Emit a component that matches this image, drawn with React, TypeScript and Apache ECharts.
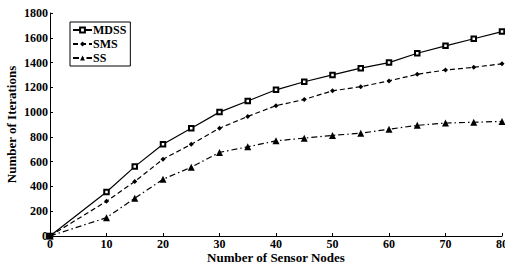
import React, { useEffect, useRef } from "react";
import * as echarts from "echarts";

const xValues = [0, 10, 15, 20, 25, 30, 35, 40, 45, 50, 55, 60, 65, 70, 75, 80];
const mdss = [0, 355, 560, 740, 870, 1000, 1090, 1180, 1245, 1300, 1355, 1400, 1475, 1535, 1592, 1650];
const sms = [0, 280, 440, 620, 740, 870, 965, 1052, 1102, 1172, 1205, 1252, 1305, 1340, 1362, 1390];
const ss = [0, 148, 305, 458, 555, 675, 720, 768, 790, 812, 830, 862, 893, 912, 918, 925];

const font = "Liberation Serif";

export default function App() {
  const ref = useRef<HTMLDivElement>(null);
  useEffect(() => {
    document.body.style.margin = "0";
    document.body.style.overflow = "hidden";
    const chart = echarts.init(ref.current!, null, { renderer: "svg" });
    const pair = (arr: number[]) => arr.map((v, i) => [xValues[i], v]);
    chart.setOption({
      animation: false,
      backgroundColor: "#fff",
      grid: { left: 50, right: 3, top: 13, bottom: 29, containLabel: false, outerBoundsMode: "none" },
      legend: {
        orient: "vertical",
        left: 70,
        top: 22,
        padding: [2, 4, 2, 2],
        itemGap: 2,
        itemWidth: 19,
        itemHeight: 6,
        borderColor: "#000",
        borderWidth: 1,
        borderRadius: 0,
        backgroundColor: "#fff",
        textStyle: { fontFamily: font, fontWeight: "bold", fontSize: 12, lineHeight: 12, color: "#000", padding: [0, 0, 0, -4] },
        data: ["MDSS", "SMS", "SS"],
      },
      xAxis: {
        type: "value",
        min: 0,
        max: 80,
        interval: 10,
        name: "Number of Sensor Nodes",
        nameLocation: "middle",
        nameGap: 15,
        nameMoveOverlap: false,
        nameTextStyle: { fontFamily: font, fontWeight: "bold", fontSize: 13, lineHeight: 13, color: "#000" },
        axisLine: { lineStyle: { color: "#000", width: 1 } },
        axisTick: { inside: true, length: 3, lineStyle: { color: "#000" } },
        axisLabel: { fontFamily: font, fontWeight: "bold", fontSize: 12, color: "#000", margin: 2, formatter: (v: number) => String(v) },
        splitLine: { show: false },
      },
      yAxis: {
        type: "value",
        min: 0,
        max: 1800,
        interval: 200,
        name: "Number of Iterations",
        nameLocation: "middle",
        nameGap: 32,
        nameMoveOverlap: false,
        nameTextStyle: { fontFamily: font, fontWeight: "bold", fontSize: 13, color: "#000" },
        axisLine: { show: true, lineStyle: { color: "#000", width: 1 } },
        axisTick: { show: true, inside: true, length: 3, lineStyle: { color: "#000" } },
        axisLabel: { fontFamily: font, fontWeight: "bold", fontSize: 12, color: "#000", margin: 2, formatter: (v: number) => String(v) },
        splitLine: { show: false },
      },
      series: [
        {
          name: "MDSS",
          type: "line",
          data: pair(mdss),
          symbol: "emptyRect",
          symbolSize: 4.5,
          itemStyle: { color: "#000", borderColor: "#000", borderWidth: 1 },
          lineStyle: { color: "#000", width: 1.2, type: "solid" },
        },
        {
          name: "SMS",
          type: "line",
          data: pair(sms),
          symbol: "diamond",
          symbolSize: 5,
          itemStyle: { color: "#000" },
          lineStyle: { color: "#000", width: 1.2, type: [5, 3] },
        },
        {
          name: "SS",
          type: "line",
          data: pair(ss),
          symbol: "triangle",
          symbolSize: 7,
          itemStyle: { color: "#000" },
          lineStyle: { color: "#000", width: 1.2, type: [6, 3, 1.5, 3] },
        },
      ],
    });
    return () => chart.dispose();
  }, []);
  return (
    <div style={{ position: "absolute", left: 0, top: 0, width: 505, height: 265 }}>
      <div ref={ref} style={{ width: 505, height: 265 }} />
    </div>
  );
}
